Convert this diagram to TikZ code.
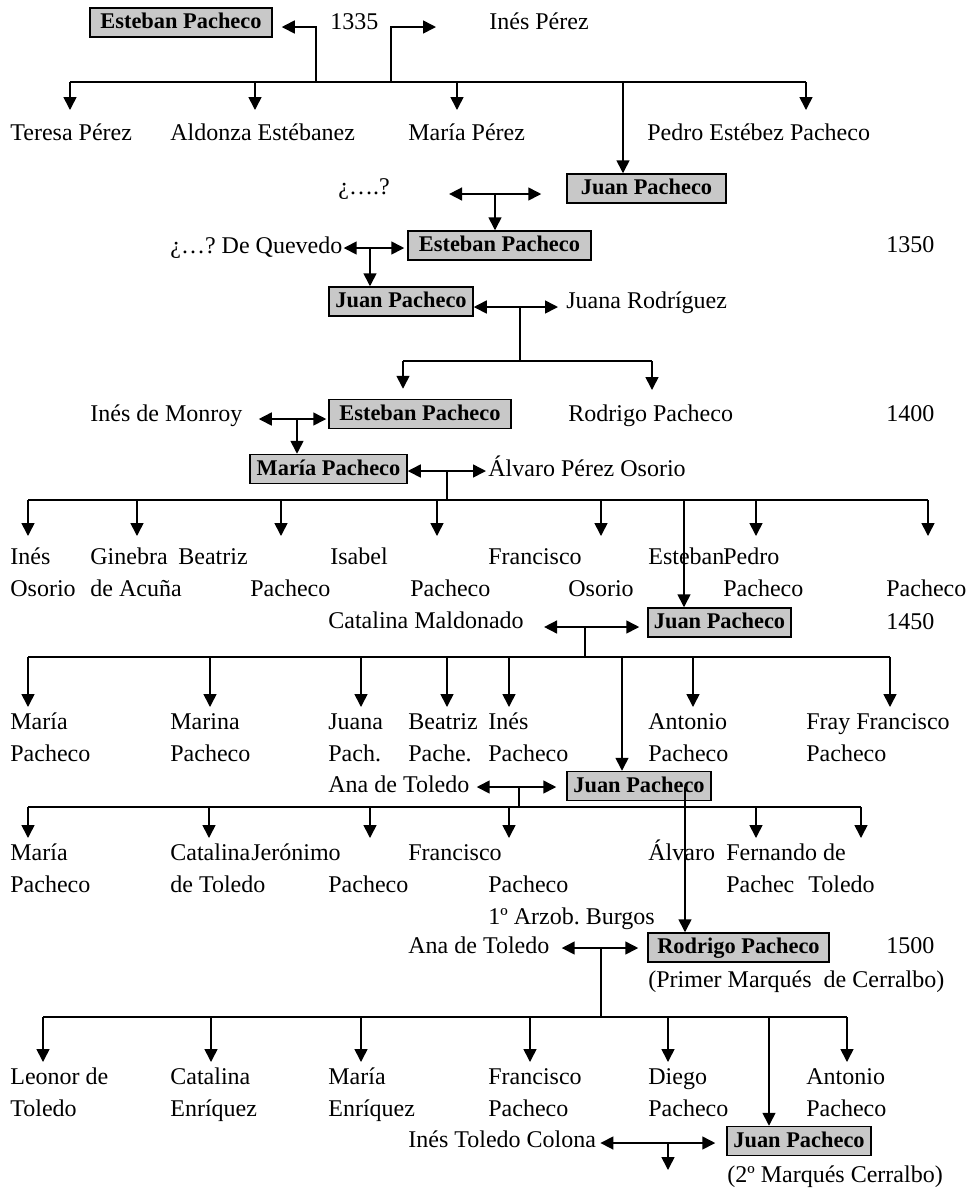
\documentclass[tikz,border=0pt]{standalone}
\usepackage{fontspec}
\setmainfont{Liberation Serif}
\usetikzlibrary{arrows.meta}
\definecolor{gris}{RGB}{200,200,200}
\newcommand{\letra}{\fontsize{12}{16}\selectfont\frenchspacing}
\newcommand{\letracaja}{\fontsize{11.2}{14}\selectfont\bfseries}

\begin{document}
\begin{tikzpicture}[x=0.5pt,y=-0.5pt,
		caja/.style={draw, fill=gris, line width=0.75pt, font=\letracaja, text height=8pt, text depth=2pt, minimum height=14.5pt, inner xsep=2pt, inner ysep=1pt},
		nombre/.style={anchor=base west, inner sep=0pt, font=\letra},
		hijo/.style={anchor=north west, inner sep=0pt, align=left, font=\letra},
		linea/.style={line width=0.8pt},
		flecha/.style={linea, -{Triangle[width=6.5pt,length=6.5pt]}},
		pareja/.style={linea, {Triangle[width=6.5pt,length=6.5pt]}-{Triangle[width=6.5pt,length=6.5pt]}}]
	\useasboundingbox (0,0) rectangle (972,1191);

	\node[caja, minimum width=91pt] (es1) at (181,22.5) {Esteban Pacheco};
	\node[nombre] (n1335) at (330,29) {1335};
	\node[nombre] (inesp) at (489,29) {Inés Pérez};
	\coordinate (u1a) at (316,82);
	\coordinate (u1b) at (391,82);
	\draw[flecha, shorten >=4.5pt] (u1a) |- ([yshift=-2.25pt]es1.east);
	\draw[flecha, shorten >=26.5pt] (u1b) |- ([yshift=1pt]inesp.base west);

	\node[hijo] (teresa) at (10,117.6) {\strut Teresa Pérez};
	\node[hijo] (aldonza) at (170,117.6) {\strut Aldonza Estébanez};
	\node[hijo] (mariap) at (408,117.6) {\strut María Pérez};
	\node[hijo] (pedro) at (647,117.6) {\strut Pedro Estébez Pacheco};
	\coordinate (r1a) at (70,82);
	\coordinate (r1b) at (806,82);
	\draw[linea] (r1a) -- (r1b);
	\foreach \n/\x in {teresa/70, aldonza/255, mariap/457, pedro/806}{
		\coordinate (b\n) at (\x,82);
		\draw[flecha, shorten >=3.8pt] (b\n) -- (b\n |- \n.north);
	}

	\node[caja, minimum width=79.5pt] (jp1) at (646.5,188.5) {Juan Pacheco};
	\coordinate (bjp1) at (623,82);
	\draw[flecha] (bjp1) -- (bjp1 |- jp1.north);

	\node[nombre] (desc1) at (338,194) {¿….?};
	\coordinate (m1) at (495,194);
	\draw[pareja, shorten <=29.5pt, shorten >=12.5pt] (desc1.east |- m1) -- (jp1.west |- m1);

	\node[caja, minimum width=91.5pt] (es2) at (499.5,245.5) {Esteban Pacheco};
	\node[nombre] (quevedo) at (170,253) {¿…? De Quevedo};
	\node[nombre] (n1350) at (886,252) {1350};
	\draw[flecha] (m1) -- (m1 |- es2.north);
	\coordinate (m2) at (370,248);
	\draw[pareja, shorten <=0.5pt, shorten >=1.5pt] (quevedo.east |- m2) -- (es2.west |- m2);

	\node[caja, minimum width=72pt] (jp2) at (401,301.5) {Juan Pacheco};
	\node[nombre] (juana) at (566,308) {Juana Rodríguez};
	\draw[flecha] (m2) -- (m2 |- jp2.north);
	\coordinate (m3) at (520,307);
	\draw[pareja, shorten >=4pt] (jp2.east |- m3) -- (juana.west |- m3);
	\coordinate (r3a) at (403,361);
	\coordinate (r3b) at (652,361);
	\draw[linea] (m3) -- (m3 |- r3a);
	\draw[linea] (r3a) -- (r3b);

	\node[caja, minimum width=91pt] (es3) at (420,414) {Esteban Pacheco};
	\node[nombre] (monroy) at (90,421) {Inés de Monroy};
	\node[hijo] (rodrigo1) at (568,398.6) {\strut Rodrigo Pacheco};
	\node[nombre] (n1400) at (886,421) {1400};
	\draw[flecha, shorten >=5pt] (r3a) -- (r3a |- es3.north);
	\draw[flecha, shorten >=4.3pt] (r3b) -- (r3b |- rodrigo1.north);
	\coordinate (m4) at (297,419);
	\draw[pareja, shorten <=8pt, shorten >=1pt] (monroy.east |- m4) -- (es3.west |- m4);

	\node[caja, minimum width=78.5pt] (mp) at (328.5,469) {María Pacheco};
	\node[nombre] (alvaro) at (488,476) {Álvaro Pérez Osorio};
	\draw[flecha] (m4) -- (m4 |- mp.north);
	\coordinate (m5) at (447,471);
	\draw[pareja, shorten >=1pt] (mp.east |- m5) -- (alvaro.west |- m5);
	\coordinate (r5a) at (28,500);
	\coordinate (r5b) at (928,500);
	\draw[linea] (m5) -- (m5 |- r5a);
	\draw[linea] (r5a) -- (r5b);

	\node[hijo] (c1) at (10,542) {\strut Inés\\Osorio};
	\node[hijo] (c2) at (90,542) {\strut Ginebra\\de Acuña};
	\node[hijo] (c3) at (178,542) {\strut Beatriz\\\hspace*{36pt}Pacheco};
	\node[hijo] (c4) at (330,542) {\strut Isabel\\\hspace*{40pt}Pacheco};
	\node[hijo] (c5) at (488,542) {\strut Francisco\\\hspace*{40pt}Osorio};
	\node[hijo] (c6) at (648,542) {\strut Esteban};
	\node[hijo] (c7) at (723,542) {\strut Pedro\\Pacheco};
	\node[hijo] (c8) at (886,542) {\strut\\Pacheco};
	\foreach \n/\x in {c1/28, c2/137, c3/281, c4/437, c5/601, c7/756, c8/928}{
		\coordinate (b\n) at (\x,500);
		\draw[flecha, shorten >=3pt] (b\n) -- (b\n |- \n.north);
	}

	\node[caja, minimum width=71.5pt] (jp3) at (719.5,622.5) {Juan Pacheco};
	\node[nombre] (catalina) at (328,628) {Catalina Maldonado};
	\node[nombre] (n1450) at (886,629) {1450};
	\coordinate (bjp3) at (684,500);
	\draw[flecha] (bjp3) -- (bjp3 |- jp3.north);
	\coordinate (m6) at (585,627);
	\draw[pareja, shorten <=10pt, shorten >=4pt] (catalina.east |- m6) -- (jp3.west |- m6);
	\coordinate (r6a) at (28,657);
	\coordinate (r6b) at (890,657);
	\draw[linea] (m6) -- (m6 |- r6a);
	\draw[linea] (r6a) -- (r6b);

	\node[hijo] (d1) at (10,707) {\strut María\\Pacheco};
	\node[hijo] (d2) at (170,707) {\strut Marina\\Pacheco};
	\node[hijo] (d3) at (328,707) {\strut Juana\\Pach.};
	\node[hijo] (d4) at (408,707) {\strut Beatriz\\Pache.};
	\node[hijo] (d5) at (488,707) {\strut Inés\\Pacheco};
	\node[hijo] (d6) at (648,707) {\strut Antonio\\Pacheco};
	\node[hijo] (d7) at (806,707) {\strut Fray Francisco\\Pacheco};
	\foreach \n/\x in {d1/28, d2/210, d3/361, d4/447, d5/509, d6/693, d7/890}{
		\coordinate (b\n) at (\x,657);
		\draw[flecha] (b\n) -- (b\n |- \n.north);
	}

	\node[caja, minimum width=72pt] (jp4) at (639,786) {Juan Pacheco};
	\node[nombre] (ana1) at (328,792) {Ana de Toledo};
	\coordinate (bjp4) at (622,657);
	\draw[flecha] (bjp4) -- (bjp4 |- jp4.north);
	\coordinate (m7) at (519,787);
	\draw[pareja, shorten <=3.5pt, shorten >=5pt] (ana1.east |- m7) -- (jp4.west |- m7);
	\coordinate (r7a) at (28,807);
	\coordinate (r7b) at (861,807);
	\draw[linea] (m7) -- (m7 |- r7a);
	\draw[linea] (r7a) -- (r7b);

	\node[hijo] (e1) at (10,838) {\strut María\\Pacheco};
	\node[hijo] (e2) at (170,838) {\strut Catalina\\de Toledo};
	\node[hijo] (e3) at (251,838) {\strut Jerónimo\\\hspace*{38.5pt}Pacheco};
	\node[hijo] (e4) at (408,838) {\strut Francisco\\\hspace*{40pt}Pacheco\\\hspace*{40pt}1º Arzob. Burgos};
	\node[hijo] (e5) at (648,838) {\strut Álvaro\\\hspace*{39pt}Pachec};
	\node[hijo] (e6) at (726,838) {\strut Fernando de\\\hspace*{41pt}Toledo};
	\foreach \n/\x in {e1/28, e2/209, e3/370, e4/509, e5/756, e6/861}{
		\coordinate (b\n) at (\x,807);
		\draw[flecha] (b\n) -- (b\n |- \n.north);
	}

	\node[caja, minimum width=90.5pt] (rp) at (738.5,947.5) {Rodrigo Pacheco};
	\node[nombre] (ana2) at (408,953) {Ana de Toledo};
	\node[nombre] (n1500) at (886,953) {1500};
	\node[nombre] (primer) at (648,987) {(Primer Marqués\ \ de Cerralbo)};
	\coordinate (s4) at (685,787);
	\draw[flecha] (s4) -- (s4 |- rp.north);
	\coordinate (m8) at (601,948);
	\draw[pareja, shorten <=6pt, shorten >=4.5pt] (ana2.east |- m8) -- (rp.west |- m8);
	\coordinate (r8a) at (43,1017);
	\coordinate (r8b) at (847,1017);
	\draw[linea] (m8) -- (m8 |- r8a);
	\draw[linea] (r8a) -- (r8b);

	\node[hijo] (f1) at (10,1062) {\strut Leonor de\\Toledo};
	\node[hijo] (f2) at (170,1062) {\strut Catalina\\Enríquez};
	\node[hijo] (f3) at (328,1062) {\strut María\\Enríquez};
	\node[hijo] (f4) at (488,1062) {\strut Francisco\\Pacheco};
	\node[hijo] (f5) at (648,1062) {\strut Diego\\Pacheco};
	\node[hijo] (f6) at (806,1062) {\strut Antonio\\Pacheco};
	\foreach \n/\x in {f1/43, f2/211, f3/361, f4/530, f5/668, f6/847}{
		\coordinate (b\n) at (\x,1017);
		\draw[flecha] (b\n) -- (b\n |- \n.north);
	}

	\node[caja, minimum width=72pt] (jp5) at (799,1141) {Juan Pacheco};
	\node[nombre] (colona) at (408,1147) {Inés Toledo Colona};
	\node[nombre] (segundo) at (727,1182) {(2º Marqués Cerralbo)};
	\coordinate (bjp5) at (769,1017);
	\draw[flecha] (bjp5) -- (bjp5 |- jp5.north);
	\coordinate (m9) at (668,1143);
	\draw[pareja, shorten <=2pt, shorten >=5.5pt] (colona.east |- m9) -- (jp5.west |- m9);
	\coordinate (fin) at (668,1170);
	\draw[flecha] (m9) -- (fin);
\end{tikzpicture}
\end{document}
